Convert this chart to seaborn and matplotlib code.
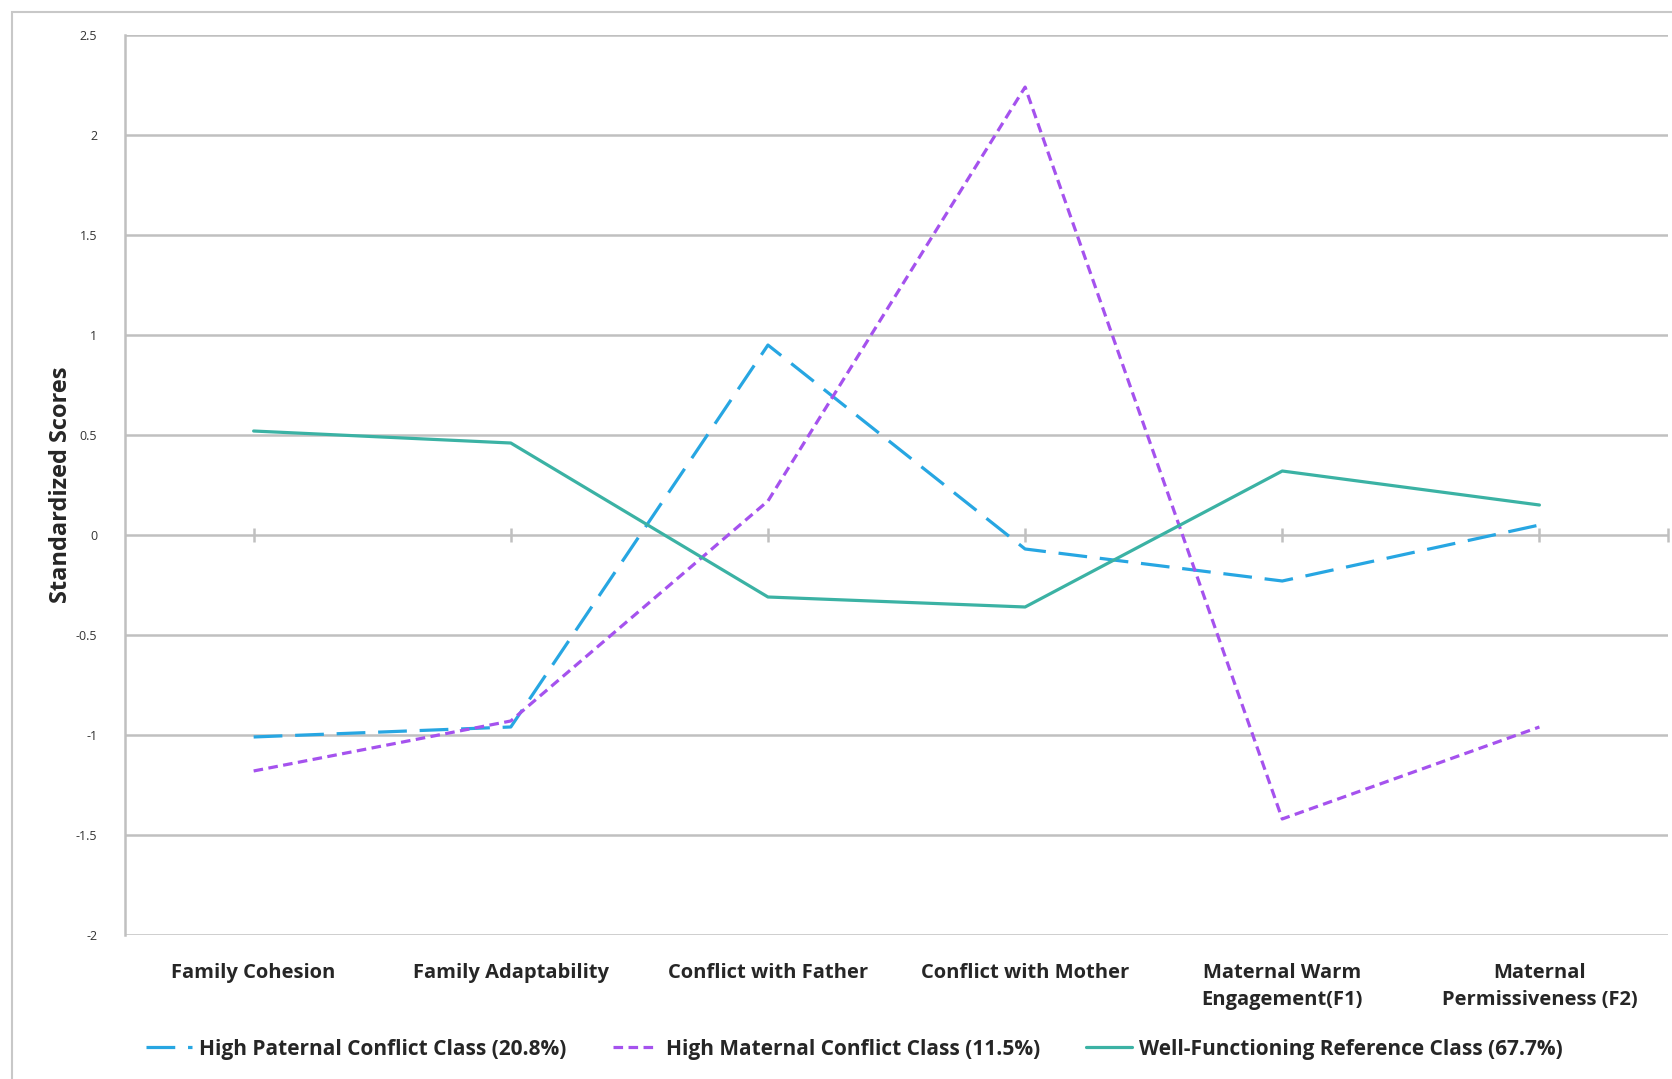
import numpy as np
import pandas as pd
import matplotlib.pyplot as plt
import seaborn as sns
from matplotlib.patches import Rectangle

categories = ["Family Cohesion", "Family Adaptability", "Conflict with Father",
              "Conflict with Mother", "Maternal Warm\nEngagement(F1)",
              "Maternal\nPermissiveness (F2)"]
paternal = [-1.01, -0.96, 0.95, -0.07, -0.23, 0.05]
maternal = [-1.18, -0.93, 0.17, 2.24, -1.42, -0.96]
reference = [0.52, 0.46, -0.31, -0.36, 0.32, 0.15]
series_names = ["High Paternal Conflict Class (20.8%)",
                "High Maternal Conflict Class (11.5%)",
                "Well-Functioning Reference Class (67.7%)"]
y_ticks = [-2, -1.5, -1, -0.5, 0, 0.5, 1, 1.5, 2, 2.5]

sns.set_style("white")
plt.rcParams['font.family'] = ['Open Sans', 'DejaVu Sans']

pos = np.arange(len(categories))
df = pd.concat([
    pd.DataFrame({"pos": pos, "score": vals, "cls": name})
    for name, vals in zip(series_names, [paternal, maternal, reference])
])

palette = dict(zip(series_names, ["#27A6E2", "#A552EE", "#3BB2A4"]))
dashes = dict(zip(series_names, [(9, 4), (3, 1.7), ""]))

fig = plt.figure(figsize=(16.72, 10.79), dpi=100)
ax = fig.add_axes([0.0748, 0.1335, 0.9228, 0.834])

# outer frame like the original screenshot
fig.patches.append(Rectangle((12 / 1672, -0.1), 2, 1.1 - 12 / 1079, transform=fig.transFigure,
                             fill=False, edgecolor="#c8c8c8", linewidth=1.5))

sns.lineplot(data=df, x="pos", y="score", hue="cls", style="cls", palette=palette,
             dashes=dashes, linewidth=2.3, sort=False, ax=ax, legend=True)

ax.set_xlim(-0.5, len(categories) - 0.5)
ax.set_ylim(-2, 2.5)
ax.set_yticks(y_ticks)
ax.set_yticklabels([f"{t:g}" for t in y_ticks], fontsize=9, color="#333333")
ax.set_xticks(pos)
ax.set_xticklabels(categories, fontsize=14.5, fontweight="bold", linespacing=1.5)
ax.tick_params(axis="x", length=0, pad=20)
ax.tick_params(axis="y", length=6, width=1.8, color="#c0c0c0", pad=14)
ax.grid(axis="y", color="#c0c0c0", linewidth=1.8)
ax.grid(axis="x", visible=False)
for s in ["top", "right", "bottom"]:
    ax.spines[s].set_visible(False)
ax.spines["left"].set_color("#c0c0c0")
ax.spines["left"].set_linewidth(1.8)
ax.set_xlabel("")
ax.set_ylabel("Standardized Scores", fontsize=17, fontweight="bold", labelpad=2)
ax.set_axisbelow(True)

# zero line tick marks at category positions
zero_ax = ax.secondary_xaxis(2 / 4.5)
zero_ax.set_xticks(list(pos) + [len(categories) - 0.5])
zero_ax.tick_params(direction="inout", length=10, width=1.8, color="#c0c0c0", labelbottom=False,
                    labeltop=False)
zero_ax.spines["bottom"].set_visible(False)
zero_ax.spines["top"].set_visible(False)

handles, labels = ax.get_legend_handles_labels()
ax.legend(handles, labels, loc="center", ncol=3, frameon=False, handlelength=2.2,
          handletextpad=0.35, columnspacing=2.2, prop={"size": 15, "weight": "bold"})
ax.get_legend().set_bbox_to_anchor((0.511, 1 - 1049 / 1079), transform=fig.transFigure)

fig.savefig("out.png", dpi=100)
